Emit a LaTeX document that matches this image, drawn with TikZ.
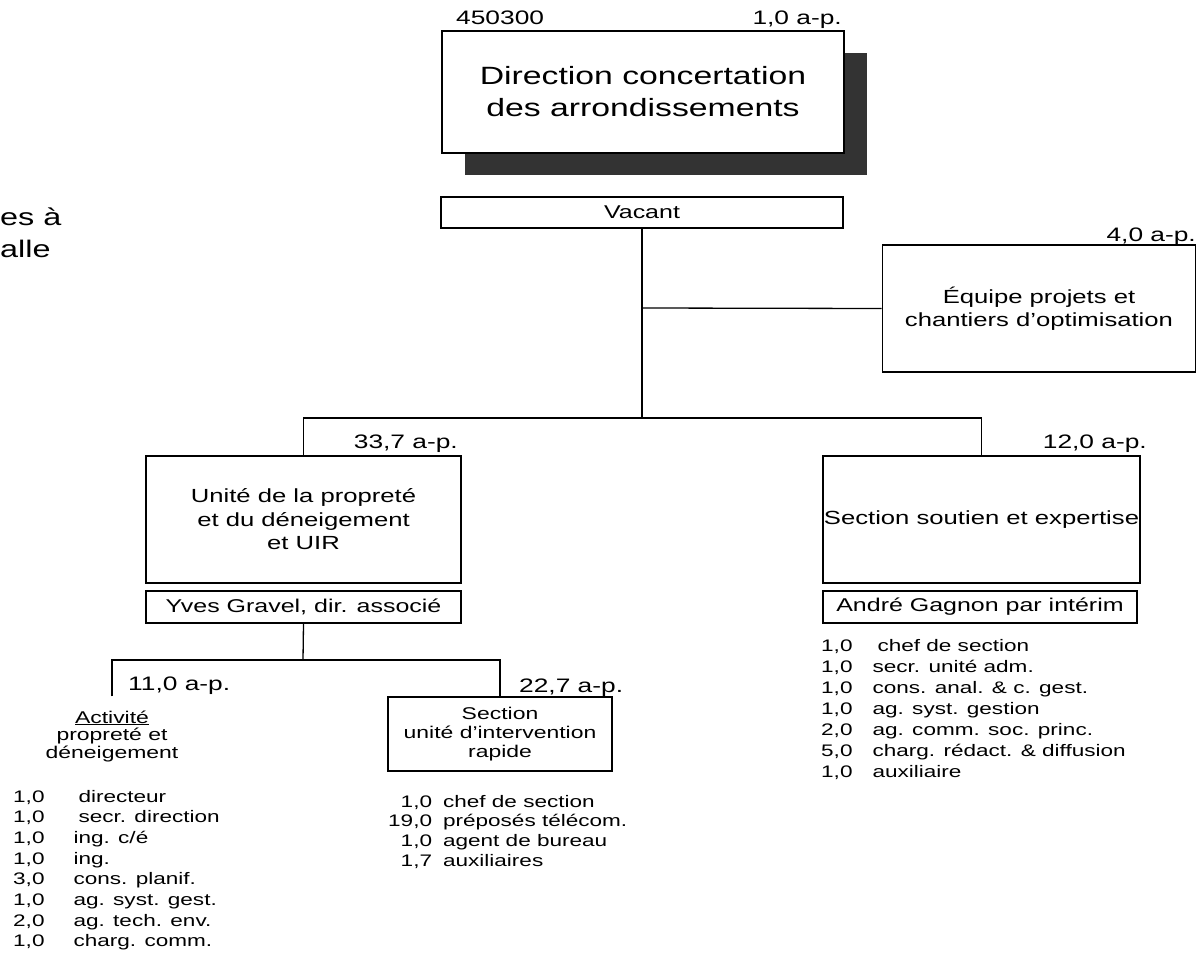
\documentclass[tikz,border=0pt]{standalone}
\usepackage{fontspec}
\setmainfont{Liberation Sans}[FakeStretch=1.35]
\usetikzlibrary{positioning,shadows}

\begin{document}
\begin{tikzpicture}[
  x=1pt, y=-1pt,
  unit/.style={draw, line width=1.6pt, fill=white, align=center, inner sep=0pt},
  titre/.style={unit, font=\fontsize{19}{23.5}\selectfont},
  resp/.style={unit, font=\fontsize{18.5}{22}\selectfont},
  ap/.style={inner sep=0pt, font=\fontsize{19.5}{22}\selectfont},
  liste/.style={inner sep=0pt, anchor=base west},
  lien/.style={line width=1.3pt}
]
\useasboundingbox (0,0) rectangle (1201,955);

% Texte coupé à gauche
\node[inner sep=0pt, anchor=base west, align=left, font=\fontsize{24}{32}\selectfont] (coupe) at (0,257) {es à\\alle};

% Direction
\node[unit, minimum width=402, minimum height=122, font=\fontsize{25}{32}\selectfont,
      drop shadow={shadow xshift=23pt, shadow yshift=-22pt, fill=black!80, opacity=1}]
      (dir) at (643,92) {Direction concertation\\des arrondissements};
\node[ap, anchor=base west] (dirno) at (456,25) {450300};
\node[ap, anchor=base east] (dirap) at (842,25) {1,0 a-p.};
\node[resp, minimum width=402, minimum height=31] (vac) at (642,212.5) {Vacant};

% Équipe projets
\node[titre, minimum width=313, minimum height=127] (equ) at (1039,308.5) {Équipe projets et\\chantiers d’optimisation};
\node[ap, anchor=base east] (equap) at (1196,241) {4,0 a-p.};

% Unités
\node[titre, minimum width=315, minimum height=127] (unite) at (303.5,519.5) {Unité de la propreté\\et du déneigement\\et UIR};
\node[ap, anchor=base east] (uniteap) at (458,448) {33,7 a-p.};
\node[resp, minimum width=315, minimum height=32] (yves) at (303.5,607) {Yves Gravel, dir. associé};

\node[titre, minimum width=317, minimum height=127] (sout) at (981.5,519.5) {Section soutien et expertise};
\node[ap, anchor=base east] (soutap) at (1147,448) {12,0 a-p.};
\node[resp, minimum width=314, minimum height=32] (andre) at (980,607) {André Gagnon par intérim};

% Activité et section UIR
\node[inner xsep=0pt, inner ysep=14pt, anchor=base, font=\fontsize{17}{17.5}\selectfont] (actv) at (112,723)
  {\begin{tabular}[t]{@{}c@{}}\underline{Activité}\\propreté et\\déneigement\end{tabular}};
\node[ap, anchor=base west] (actvap) at (128,690) {11,0 a-p.};
\node[unit, line width=1.4pt, minimum width=224, minimum height=74, font=\fontsize{17}{19}\selectfont] (sect) at (500,734)
  {Section\\unité d’intervention\\rapide};
\node[ap, anchor=base west] (sectap) at (519,692) {22,7 a-p.};

% Effectifs
\node[liste, font=\fontsize{16.7}{20.7}\selectfont] (lstact) at (13,802)
  {\begin{tabular}[t]{@{}r@{\hspace{29pt}}l@{}}
   1,0 & \hspace{5pt}directeur\\
   1,0 & \hspace{5pt}secr. direction\\
   1,0 & ing. c/é\\
   1,0 & ing.\\
   3,0 & cons. planif.\\
   1,0 & ag. syst. gest.\\
   2,0 & ag. tech. env.\\
   1,0 & charg. comm.
   \end{tabular}};
\node[liste, font=\fontsize{16.7}{19.9}\selectfont] (lstsect) at (388,807)
  {\begin{tabular}[t]{@{}r@{\hspace{11pt}}l@{}}
   1,0 & chef de section\\
   19,0 & préposés télécom.\\
   1,0 & agent de bureau\\
   1,7 & auxiliaires
   \end{tabular}};
\node[liste, font=\fontsize{16.7}{21}\selectfont] (lstsout) at (821,651)
  {\begin{tabular}[t]{@{}r@{\hspace{20pt}}l@{}}
   1,0 & \hspace{5pt}chef de section\\
   1,0 & secr. unité adm.\\
   1,0 & cons. anal. \& c. gest.\\
   1,0 & ag. syst. gestion\\
   2,0 & ag. comm. soc. princ.\\
   5,0 & charg. rédact. \& diffusion\\
   1,0 & auxiliaire
   \end{tabular}};

% Liens
\coordinate (j0) at (642,308);
\coordinate (j1) at (642,418);
\coordinate (j2) at (303,660);
\draw[lien] (vac.south) -- (j1);
\draw[lien] (j0) -- (equ.west);
\draw[lien] (unite.north) |- (j1) -| (sout.north);
\draw[lien] (yves.south) -- (j2);
\draw[lien] (actv.north) |- (j2) -| (sect.north);
\end{tikzpicture}
\end{document}
